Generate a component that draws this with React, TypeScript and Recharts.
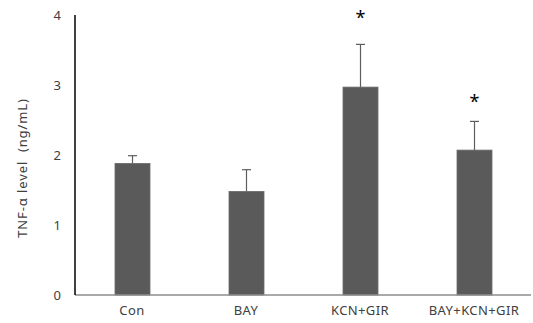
import { Bar, BarChart, LabelList, XAxis, YAxis } from "recharts"

const groups = ["Con", "BAY", "KCN+GIR", "BAY+KCN+GIR"]
const tnfLevel = [1.88, 1.48, 2.97, 2.07]
const tnfError = [0.11, 0.31, 0.61, 0.41]
// where the significance mark sits, in ng/mL (null = none)
const starLevel: (number | null)[] = [null, null, 3.98, 2.78]
const yTicks = [0, 1, 2, 3, 4]

const data = groups.map((name, i) => ({
  name,
  value: tnfLevel[i],
  err: tnfError[i],
  star: starLevel[i],
}))

const FONT = "'Noto Sans', 'DejaVu Sans', sans-serif"

// bar + upper-only error whisker, scaled from the bar's own pixel height
function BarWithError(props: any) {
  const { x, y, width, height, index } = props
  const perUnit = height / tnfLevel[index]
  const cx = x + width / 2
  const top = y - tnfError[index] * perUnit
  return (
    <g>
      <line x1={cx} y1={y} x2={cx} y2={top} stroke="#5e5e5e" strokeWidth={1.2} />
      <line x1={cx - 4.5} y1={top} x2={cx + 4.5} y2={top} stroke="#5e5e5e" strokeWidth={1.2} />
      <rect x={x} y={y} width={width} height={height} fill="#5a5a5a" stroke="#6b6b6b" strokeWidth={0.8} />
    </g>
  )
}

function StarLabel(props: any) {
  const { x, y, width, height, index } = props
  const level = starLevel[index]
  if (level == null) return null
  const perUnit = height / tnfLevel[index]
  const cy = y + height - level * perUnit
  return (
    <text
      x={x + width / 2}
      y={cy + 8}
      textAnchor="middle"
      fontSize={18}
      fontFamily={FONT}
      fill="#000"
    >
      *
    </text>
  )
}

export default function App() {
  return (
    <div style={{ position: "absolute", left: 0, top: 0, background: "#fff" }}>
      <BarChart
        width={533}
        height={323}
        data={data}
        margin={{ top: 15, right: 2, left: 0, bottom: 0 }}
        barCategoryGap={0}
      >
        <XAxis
          dataKey="name"
          height={28}
          axisLine={{ stroke: "#8c8c8c", strokeWidth: 1.5 }}
          tickLine={false}
          tickSize={0}
          tickMargin={11}
          tick={{ fontSize: 13, fill: "#404040", fontFamily: FONT, letterSpacing: 0.4 }}
          interval={0}
        />
        <YAxis
          width={75}
          domain={[0, 4]}
          ticks={yTicks}
          axisLine={{ stroke: "#000", strokeWidth: 1.5 }}
          tickLine={false}
          tickSize={0}
          tickMargin={14}
          tick={{ fontSize: 13, fill: "#404040", fontFamily: FONT }}
          label={{
            content: () => (
              <text
                x={22}
                y={168}
                transform="rotate(-90 22 168)"
                textAnchor="middle"
                dominantBaseline="central"
                fontSize={13}
                letterSpacing={0.9}
                fontFamily={FONT}
                fill="#404040"
                style={{ whiteSpace: "pre" }}
              >
                TNF-α level  (ng/mL)
              </text>
            ),
          }}
        />
        <Bar
          dataKey="value"
          barSize={35}
          shape={BarWithError}
          isAnimationActive={false}
        >
          <LabelList dataKey="star" content={StarLabel} />
        </Bar>
      </BarChart>
    </div>
  )
}
